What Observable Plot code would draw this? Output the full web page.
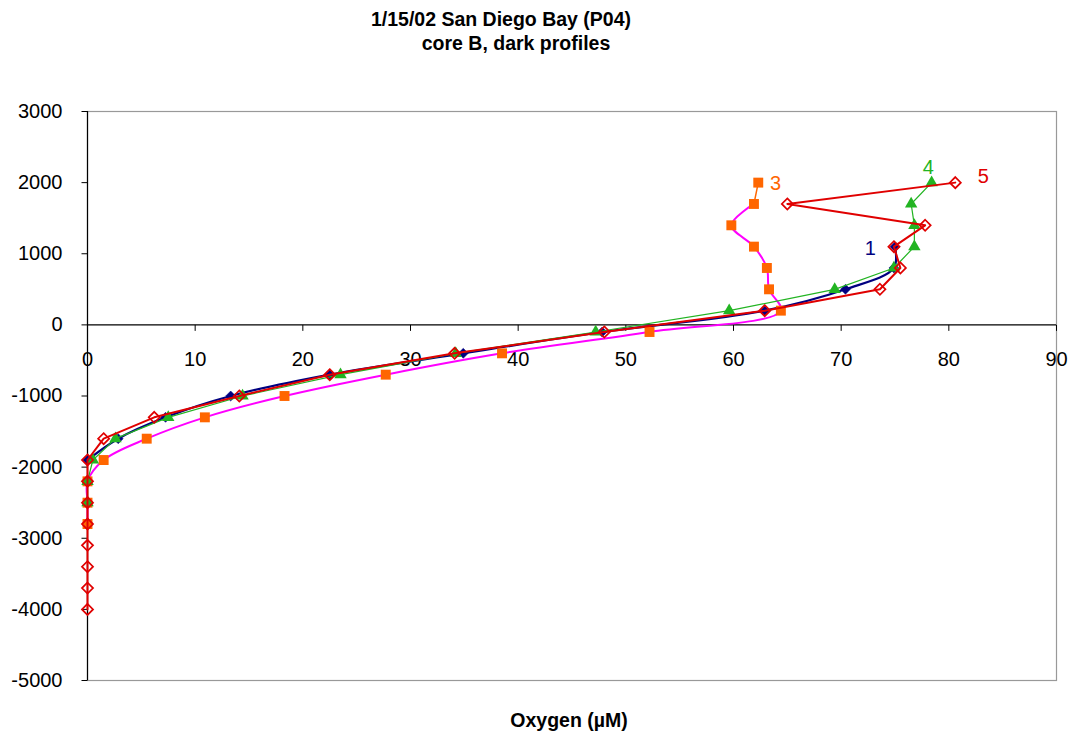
<!DOCTYPE html>
<html>
<head>
<meta charset="utf-8">
<script src="https://cdn.jsdelivr.net/npm/d3@7"></script>
<script src="https://cdn.jsdelivr.net/npm/@observablehq/plot@0.6"></script>
<style>
  html, body { margin: 0; padding: 0; background: #fff; }
  #chart svg { display: block; }
</style>
</head>
<body>
<div id="chart"></div>
<script>
// ---- Data ----
const titleLines = ["1/15/02 San Diego Bay (P04)", "core B, dark profiles"];
const xTitle = "Oxygen (µM)";
const xTicks = [0, 10, 20, 30, 40, 50, 60, 70, 80, 90];
const yTicks = [-5000, -4000, -3000, -2000, -1000, 0, 1000, 2000, 3000];

// depth (y) values shared by the profiles
const depths = [2000, 1700, 1400, 1100, 800, 500, 200, -100, -400, -700, -1000,
  -1300, -1600, -1900, -2200, -2500, -2800, -3100, -3400, -3700, -4000];

// profile 1 (navy diamonds), depths 1100 .. -1900
const depth1 = [1100, 800, 500, 200, -100, -400, -700, -1000, -1300, -1600, -1900];
const oxy1 = [75.0, 74.9, 70.4, 62.9, 47.8, 34.9, 22.5, 13.3, 7.25, 2.85, 0];

// profile 3 (orange squares, magenta line), depths 2000 .. -2800
const oxy3 = [62.3, 61.9, 59.8, 61.9, 63.1, 63.3, 64.4, 52.2, 38.5, 27.7, 18.3, 10.9, 5.5, 1.5, 0, 0, 0];

// profile 4 (green triangles), depths 2000 .. -2500
const oxy4 = [78.4, 76.5, 76.8, 76.8, 74.9, 69.4, 59.6, 47.2, 34.2, 23.5, 14.4, 7.5, 2.6, 0.5, 0, 0];

// profile 5 (red open diamonds), depths 2000 .. -4000
const oxy5 = [80.6, 65.0, 77.8, 74.9, 75.5, 73.6, 62.9, 48.0, 34.1, 22.5, 14.1, 6.2, 1.5, 0, 0, 0, 0, 0, 0, 0, 0];

// series labels placed near their profiles
const seriesLabels = ["1", "3", "4", "5"];
const labelX = [72.7, 63.9, 78.1, 83.2];
const labelY = [1075, 1990, 2215, 2085];
const labelColors = ["#000080", "#FF6600", "#22B422", "#E00000"];

// ---- Build tables ----
const s1 = depth1.map((d, i) => ({depth: d, o2: oxy1[i]}));
const s3 = oxy3.map((v, i) => ({depth: depths[i], o2: v}));
const s4 = oxy4.map((v, i) => ({depth: depths[i], o2: v}));
const s5 = oxy5.map((v, i) => ({depth: depths[i], o2: v}));
const labels = seriesLabels.map((t, i) => ({t, x: labelX[i], y: labelY[i], c: labelColors[i]}));

const tickDown = {draw(ctx) { ctx.moveTo(0, 0); ctx.lineTo(0, 6); }};
const tickLeft = {draw(ctx) { ctx.moveTo(0, 0); ctx.lineTo(-6, 0); }};

const font = "'Liberation Sans', Arial, Helvetica, sans-serif";

const chart = Plot.plot({
  width: 1071,
  height: 738,
  marginLeft: 87,
  marginRight: 15,
  marginTop: 111,
  marginBottom: 58,
  style: {fontFamily: font, background: "#fff", overflow: "visible"},
  x: {domain: [0, 90], axis: null},
  y: {domain: [-5000, 3000], axis: null},
  marks: [
    Plot.frame({stroke: "#999", strokeWidth: 1.2}),
    Plot.ruleX([0], {stroke: "#000", strokeWidth: 1.2}),
    Plot.ruleY([0], {stroke: "#000", strokeWidth: 1.2}),
    // x ticks & labels along y = 0
    Plot.dot(xTicks, {x: d => d, y: () => 0, symbol: tickDown, stroke: "#000", strokeWidth: 1}),
    Plot.text(xTicks, {x: d => d, y: () => 0, dy: 35, text: d => String(d), fontSize: 20, fill: "#000"}),
    // y ticks & labels
    Plot.dot(yTicks, {x: () => 0, y: d => d, symbol: tickLeft, stroke: "#000", strokeWidth: 1}),
    Plot.text(yTicks, {x: () => 0, y: d => d, dx: -25, textAnchor: "end", text: d => String(d), fontSize: 20, fill: "#000"}),

    // profile 1 (navy)
    Plot.line(s1, {x: "o2", y: "depth", stroke: "#000080", strokeWidth: 2.2, curve: "catmull-rom"}),
    Plot.dot(s1, {x: "o2", y: "depth", symbol: "diamond2", r: 4.5, fill: "#000080", stroke: "#000080", strokeWidth: 0.5}),

    // profile 3 (magenta line, orange squares; top segment orange)
    Plot.line(s3.slice(1), {x: "o2", y: "depth", stroke: "#FF00FF", strokeWidth: 2, curve: "catmull-rom"}),
    Plot.line(s3.slice(0, 2), {x: "o2", y: "depth", stroke: "#FF6600", strokeWidth: 1.5}),
    Plot.dot(s3, {x: "o2", y: "depth", symbol: "square", r: 5.6, fill: "#FF6600"}),

    // profile 4 (green)
    Plot.line(s4, {x: "o2", y: "depth", stroke: "#22B422", strokeWidth: 1.2}),
    Plot.dot(s4, {x: "o2", y: "depth", symbol: "triangle", r: 4.6, fill: "#22B422"}),

    // profile 5 (red open diamonds)
    Plot.line(s5, {x: "o2", y: "depth", stroke: "#E00000", strokeWidth: 2}),
    Plot.dot(s5, {x: "o2", y: "depth", symbol: "diamond2", r: 5, fill: "none", stroke: "#E00000", strokeWidth: 1.7}),

    // series labels
    Plot.text(labels, {x: "x", y: "y", text: "t", fill: d => d.c, fontSize: 20}),

    // titles
    Plot.text([titleLines[0]], {frameAnchor: "top", lineAnchor: "middle", dx: -71, dy: -92, fontSize: 19.5, fontWeight: "bold", fill: "#000"}),
    Plot.text([titleLines[1]], {frameAnchor: "top", lineAnchor: "middle", dx: -56, dy: -68, fontSize: 19.5, fontWeight: "bold", fill: "#000"}),
    Plot.text([xTitle], {frameAnchor: "bottom", lineAnchor: "middle", dx: -3, dy: 40, fontSize: 19.5, fontWeight: "bold", fill: "#000"})
  ]
});
document.getElementById("chart").appendChild(chart);
</script>
</body>
</html>
